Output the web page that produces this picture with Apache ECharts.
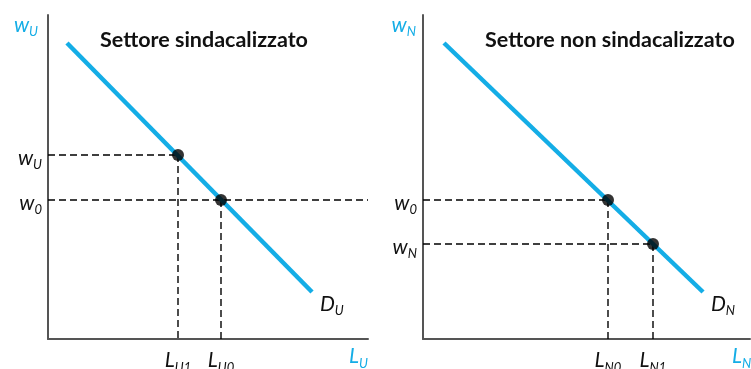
<!DOCTYPE html>
<html>
<head>
<meta charset="utf-8">
<script src="https://cdn.jsdelivr.net/npm/echarts@6/dist/echarts.min.js"></script>
<style>
  html, body { margin: 0; padding: 0; background: #fff; }
  #chart { width: 751px; height: 369px; }
</style>
</head>
<body>
<div id="chart"></div>
<script>
// units: each panel's axes run 0..max, origin at the axes corner
const xMaxU = 320, yMaxU = 324;
const xMaxN = 327, yMaxN = 324;

// demand curves (start, end)
const demandU = [[19, 296], [264, 47]];
const demandN = [[21, 296], [280, 47]];

// marked points on the curves
const pointsU = [[130, 184], [173, 139]];
const pointsN = [[185, 139], [230, 95]];
// does the wage guide run past the point to the end of the axis?
const extendU = [false, true];
const extendN = [false, false];

// tick labels [main, subscript]
const wageLabelsU = [['w', 'U'], ['w', '0']];
const labourLabelsU = [['L', 'U1'], ['L', 'U0']];
const wageLabelsN = [['w', '0'], ['w', 'N']];
const labourLabelsN = [['L', 'N0'], ['L', 'N1']];

const titles = ['Settore sindacalizzato', 'Settore non sindacalizzato'];

const BLUE = '#14ade6';
const INK = '#111';
const FONT = 'Lato';

const rich = {
  m: { fontFamily: FONT, fontStyle: 'italic', fontSize: 21, color: INK },
  s: { fontFamily: FONT, fontStyle: 'italic', fontSize: 13, color: INK, padding: [14, 0, 0, 0] },
  mb: { fontFamily: FONT, fontStyle: 'italic', fontSize: 21, color: BLUE },
  sb: { fontFamily: FONT, fontStyle: 'italic', fontSize: 13, color: BLUE, padding: [14, 0, 0, 0] }
};
const sub = (p, blue) => blue ? `{mb|${p[0]}}{sb|${p[1]}}` : `{m|${p[0]}}{s|${p[1]}}`;

function axes(idx, xMax, yMax, xPts, yPts, xLabels, yLabels, xName, yName, xNameGap, yNamePad) {
  const line = { show: true, lineStyle: { color: '#555', width: 2 } };
  const xAxis = {
    type: 'value', gridIndex: idx, min: 0, max: xMax,
    axisLine: line, axisTick: { show: false }, splitLine: { show: false },
    axisLabel: {
      customValues: xPts, margin: 8, rich,
      formatter: v => sub(xLabels[xPts.indexOf(v)])
    },
    name: sub(xName, true), nameLocation: 'end', nameGap: xNameGap,
    nameTextStyle: { rich, align: xNameGap < 0 ? 'left' : 'right', verticalAlign: 'top', padding: [4, 0, 0, 0] }
  };
  const yAxis = {
    type: 'value', gridIndex: idx, min: 0, max: yMax,
    axisLine: line, axisTick: { show: false }, splitLine: { show: false },
    axisLabel: {
      customValues: yPts, margin: 6, rich, padding: [6, 0, 0, 0],
      formatter: v => sub(yLabels[yPts.indexOf(v)])
    },
    name: sub(yName, true), nameLocation: 'end', nameGap: -10,
    nameTextStyle: { rich, align: 'right', verticalAlign: 'middle', padding: [0, yNamePad, 0, 0] }
  };
  return { xAxis, yAxis };
}

function panelSeries(idx, demand, pts, extend, xMax, dLabel) {
  const dash = { color: '#000', width: 1.4, type: [7, 4] };
  const out = [];
  pts.forEach((p, i) => {
    out.push({
      type: 'line', xAxisIndex: idx, yAxisIndex: idx, symbol: 'none', silent: true,
      lineStyle: dash, z: 1,
      data: [[0, p[1]], [extend[i] ? xMax : p[0], p[1]]]
    });
    out.push({
      type: 'line', xAxisIndex: idx, yAxisIndex: idx, symbol: 'none', silent: true,
      lineStyle: dash, z: 1,
      data: [[p[0], p[1]], [p[0], 0]]
    });
  });
  out.push({
    type: 'line', xAxisIndex: idx, yAxisIndex: idx, symbol: 'none', z: 2,
    lineStyle: { color: BLUE, width: 4.5, cap: 'butt' },
    data: demand,
    endLabel: { show: true, formatter: () => sub(dLabel), rich, distance: 8, offset: [0, 12] }
  });
  out.push({
    type: 'scatter', xAxisIndex: idx, yAxisIndex: idx, z: 3,
    symbolSize: 12, itemStyle: { color: '#000' },
    data: pts
  });
  return out;
}

const aU = axes(0, xMaxU, yMaxU, pointsU.map(p => p[0]), pointsU.map(p => p[1]),
  labourLabelsU, wageLabelsU, ['L', 'U'], ['w', 'U'], 0, 10);
const aN = axes(1, xMaxN, yMaxN, pointsN.map(p => p[0]), pointsN.map(p => p[1]),
  labourLabelsN, wageLabelsN, ['L', 'N'], ['w', 'N'], -18, 7);

const titleStyle = { fontFamily: FONT, fontWeight: 'bold', fontSize: 21.5, color: '#111' };

const chart = echarts.init(document.getElementById('chart'), null, { renderer: 'canvas' });
chart.setOption({
  animation: false,
  backgroundColor: '#fff',
  title: [
    { text: titles[0], left: 100, top: 29, padding: 0, textStyle: titleStyle },
    { text: titles[1], left: 485, top: 29, padding: 0, textStyle: titleStyle }
  ],
  grid: [
    { left: 48, top: 15, width: xMaxU, height: yMaxU, containLabel: false, outerBoundsMode: 'none' },
    { left: 423, top: 15, width: xMaxN, height: yMaxN, containLabel: false, outerBoundsMode: 'none' }
  ],
  xAxis: [aU.xAxis, aN.xAxis],
  yAxis: [aU.yAxis, aN.yAxis],
  series: [
    ...panelSeries(0, demandU, pointsU, extendU, xMaxU, ['D', 'U']),
    ...panelSeries(1, demandN, pointsN, extendN, xMaxN, ['D', 'N'])
  ]
});
</script>
</body>
</html>
